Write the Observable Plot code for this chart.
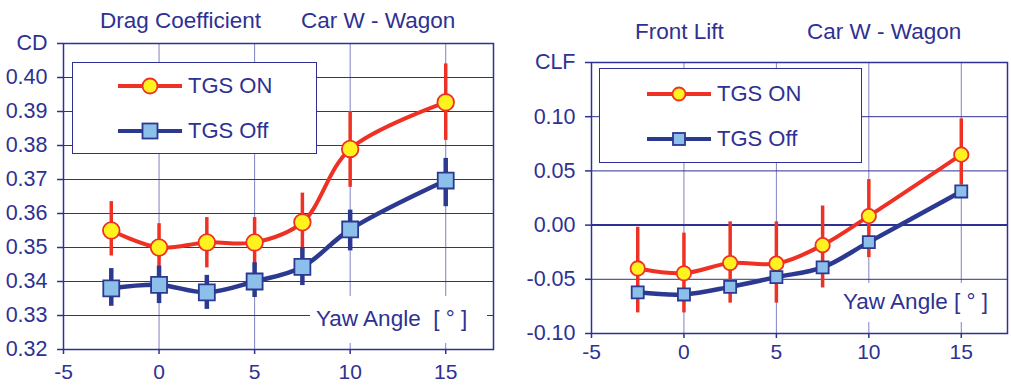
<!DOCTYPE html>
<html>
<head>
<meta charset="utf-8">
<script src="https://cdn.jsdelivr.net/npm/d3@7"></script>
<script src="https://cdn.jsdelivr.net/npm/@observablehq/plot@0.6"></script>
<style>
  html, body { margin: 0; padding: 0; background: #fff; }
  #wrap { position: relative; width: 1011px; height: 386px; overflow: hidden;
          font-family: "Liberation Sans", Arial, Helvetica, sans-serif; color: #2e3192; }
  .abs { position: absolute; white-space: nowrap; }
  .title { font-size: 22.5px; line-height: 1; }
  .legend { position: absolute; background: #fff; border: 1.5px solid #2e3192; box-sizing: border-box; }
  .legend .row { position: absolute; display: flex; align-items: center; font-size: 22px; }
  .legend svg { display: block; margin-right: 6px; }
  .xlab { font-size: 22.5px; background: #fff; line-height: 1; }
</style>
</head>
<body>
<div id="wrap"></div>
<script>
// Yaw angles tested (degrees)
const yaw = [-2.5, 0, 2.5, 5, 7.5, 10, 15];

// Drag coefficient, TGS on / off, with scatter bands
const cdOn    = [0.355, 0.350, 0.3515, 0.3515, 0.3574, 0.379, 0.3927];
const cdOnLo  = [0.3475, 0.343, 0.344, 0.344, 0.349, 0.3677, 0.3815];
const cdOnHi  = [0.3635, 0.357, 0.3588, 0.3588, 0.366, 0.390, 0.404];
const cdOff   = [0.338, 0.339, 0.3368, 0.340, 0.3443, 0.3553, 0.3697];
const cdOffLo = [0.3327, 0.3335, 0.3318, 0.3353, 0.3388, 0.349, 0.362];
const cdOffHi = [0.3438, 0.3445, 0.3418, 0.3455, 0.350, 0.361, 0.3762];

// Front lift coefficient, TGS on / off
const clfOn    = [-0.040, -0.0444, -0.035, -0.0355, -0.0185, 0.0083, 0.065];
const clfOnLo  = [-0.081, -0.081, -0.072, -0.072, -0.058, -0.030, 0.037];
const clfOnHi  = [-0.002, -0.0074, 0.003, 0.003, 0.0176, 0.042, 0.098];
const clfOff   = [-0.062, -0.064, -0.057, -0.048, -0.039, -0.0157, 0.031];
const clfOffLo = [-0.066, -0.068, -0.061, -0.052, -0.043, -0.0197, 0.026];
const clfOffHi = [-0.058, -0.060, -0.053, -0.044, -0.035, -0.0117, 0.036];

// Axis ticks and labels
const xTicks = [-5, 0, 5, 10, 15];
const xTickLabels = ["-5", "0", "5", "10", "15"];
const cdTicks = [0.32, 0.33, 0.34, 0.35, 0.36, 0.37, 0.38, 0.39, 0.40, 0.41];
const cdTickLabels = ["0.32", "0.33", "0.34", "0.35", "0.36", "0.37", "0.38", "0.39", "0.40", "CD"];
const clfTicks = [-0.10, -0.05, 0.00, 0.05, 0.10, 0.15];
const clfTickLabels = ["-0.10", "-0.05", "0.00", "0.05", "0.10", "CLF"];

const NAVY = "#2e3192";
const GRIDV = "#8082c2";
const RED = "#ee3124";
const YELLOW = "#fff21f";
const BLUE = "#2b3990";
const LIGHTBLUE = "#8cc0ea";
const FONT = "'Liberation Sans', Arial, Helvetica, sans-serif";

function rows(on, onLo, onHi, off, offLo, offHi) {
  return yaw.map((x, i) => ({
    x, on: on[i], onLo: onLo[i], onHi: onHi[i], off: off[i], offLo: offLo[i], offHi: offHi[i]
  }));
}

function chart(o) {
  const data = rows(...o.series);
  const marks = [
    Plot.ruleX(xTicks.slice(1), {stroke: GRIDV, strokeWidth: 1}),
    Plot.ruleY(o.yTicks.slice(0, -1), {stroke: NAVY, strokeWidth: 1}),
    ...(o.zero ? [Plot.ruleY([0], {stroke: NAVY, strokeWidth: 2})] : []),
    Plot.frame({stroke: NAVY, strokeWidth: 1.5}),
    Plot.axisX(xTicks, {
      tickFormat: (d, i) => xTickLabels[i], tickSize: 5, tickPadding: o.xPad,
      fontSize: 21, stroke: NAVY, strokeWidth: 1.5, label: null
    }),
    Plot.axisY(o.yTicks, {
      tickFormat: (d, i) => o.yLabels[i], tickSize: 6, tickPadding: 10,
      fontSize: 21.5, stroke: NAVY, strokeWidth: 1.5, label: null
    }),
    Plot.ruleX(data, {x: "x", y1: "onLo", y2: "onHi", stroke: RED, strokeWidth: 3.5}),
    Plot.ruleX(data, {x: "x", y1: "offLo", y2: "offHi", stroke: BLUE, strokeWidth: 4.5}),
    Plot.line(data, {x: "x", y: "on", stroke: RED, strokeWidth: 4, curve: "catmull-rom"}),
    Plot.line(data, {x: "x", y: "off", stroke: BLUE, strokeWidth: 4.5, curve: "catmull-rom"}),
    Plot.dot(data, {x: "x", y: "on", r: o.rOn, fill: YELLOW, stroke: RED, strokeWidth: 1.8}),
    Plot.dot(data, {x: "x", y: "off", r: o.rOff, symbol: "square", fill: LIGHTBLUE, stroke: BLUE, strokeWidth: 1.8})
  ];
  return Plot.plot({
    width: o.width, height: 386,
    marginLeft: o.ml, marginRight: o.mr, marginTop: o.mt, marginBottom: o.mb,
    x: {domain: [-5, 17.5]},
    y: {domain: o.yDomain},
    style: {fontFamily: FONT, color: NAVY, background: "transparent", overflow: "visible"},
    marks
  });
}

const wrap = document.getElementById("wrap");

function place(el, left, top) {
  el.style.position = "absolute";
  el.style.left = left + "px";
  el.style.top = top + "px";
  wrap.appendChild(el);
  return el;
}

place(chart({
  width: 505, ml: 63, mr: 12, mt: 43, mb: 37, xPad: 10,
  yDomain: [0.32, 0.41], yTicks: cdTicks, yLabels: cdTickLabels,
  series: [cdOn, cdOnLo, cdOnHi, cdOff, cdOffLo, cdOffHi], rOn: 8.3, rOff: 9, zero: false
}), 0, 0);

place(chart({
  width: 506, ml: 86, mr: 4, mt: 62, mb: 53, xPad: 6,
  yDomain: [-0.10, 0.15], yTicks: clfTicks, yLabels: clfTickLabels,
  series: [clfOn, clfOnLo, clfOnHi, clfOff, clfOffLo, clfOffHi], rOn: 7.2, rOff: 6.8, zero: true
}), 505, 0);

function text(cls, s, left, top) {
  const d = document.createElement("div");
  d.className = "abs " + cls;
  d.textContent = s;
  return place(d, left, top);
}

// Titles
text("title", "Drag Coefficient", 100, 10);
text("title", "Car W - Wagon", 301, 10);
text("title", "Front Lift", 635, 21);
text("title", "Car W - Wagon", 807, 21);

// Axis titles set on white patches over the grid
const xl1 = text("xlab", "Yaw Angle\u00a0\u00a0[ \u00b0 ]", 310, 296);
xl1.style.padding = "12px 20px 12px 6px";
const xl2 = text("xlab", "Yaw Angle [ \u00b0 ]", 837, 283);
xl2.style.padding = "8px 12px 8px 6px";

function sample(color, fill, square, r) {
  const ns = "http://www.w3.org/2000/svg";
  const s = document.createElementNS(ns, "svg");
  s.setAttribute("width", 64); s.setAttribute("height", 22);
  const l = document.createElementNS(ns, "line");
  l.setAttribute("x1", 0); l.setAttribute("x2", 64); l.setAttribute("y1", 11); l.setAttribute("y2", 11);
  l.setAttribute("stroke", color); l.setAttribute("stroke-width", 4);
  s.appendChild(l);
  let m;
  if (square) {
    m = document.createElementNS(ns, "rect");
    m.setAttribute("x", 32 - r); m.setAttribute("y", 11 - r);
    m.setAttribute("width", 2 * r); m.setAttribute("height", 2 * r);
  } else {
    m = document.createElementNS(ns, "circle");
    m.setAttribute("cx", 32); m.setAttribute("cy", 11); m.setAttribute("r", r);
  }
  m.setAttribute("fill", fill); m.setAttribute("stroke", color); m.setAttribute("stroke-width", 1.8);
  s.appendChild(m);
  return s;
}

function legend(left, top, w, h, rows) {
  const box = document.createElement("div");
  box.className = "legend";
  box.style.width = w + "px"; box.style.height = h + "px";
  for (const r of rows) {
    const row = document.createElement("div");
    row.className = "row";
    row.style.left = r.x + "px"; row.style.top = r.y + "px";
    row.appendChild(sample(r.color, r.fill, r.square, r.r));
    const t = document.createElement("span");
    t.textContent = r.label;
    row.appendChild(t);
    box.appendChild(row);
  }
  return place(box, left, top);
}

legend(72, 62, 245, 92, [
  {x: 45, y: 10, label: "TGS ON", color: RED, fill: YELLOW, square: false, r: 7.5},
  {x: 45, y: 55, label: "TGS Off", color: BLUE, fill: LIGHTBLUE, square: true, r: 7.5}
]);
legend(599, 68, 263, 95, [
  {x: 47, y: 12, label: "TGS ON", color: RED, fill: YELLOW, square: false, r: 6.5},
  {x: 47, y: 57, label: "TGS Off", color: BLUE, fill: LIGHTBLUE, square: true, r: 6}
]);
</script>
</body>
</html>
